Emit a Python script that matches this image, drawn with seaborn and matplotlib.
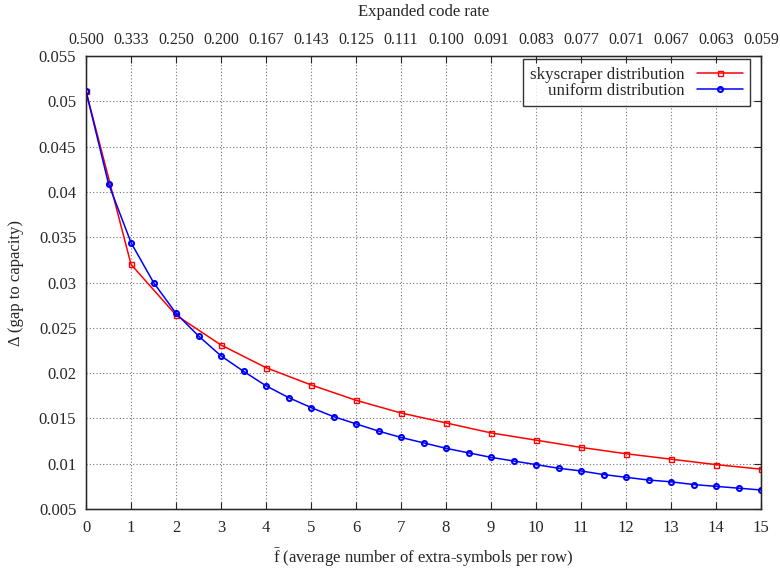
import matplotlib
matplotlib.use("Agg")
import matplotlib.pyplot as plt
import numpy as np
import pandas as pd
import seaborn as sns
from matplotlib.ticker import FuncFormatter

# skyscraper distribution: one point per integer f
sky_f = [0, 1, 2, 3, 4, 5, 6, 7, 8, 9, 10, 11, 12, 13, 14, 15]
sky_gap = [0.0511, 0.0320, 0.0264, 0.0231, 0.0206, 0.0187, 0.0170, 0.0156, 0.0145,
           0.0134, 0.0126, 0.0118, 0.0111, 0.0105, 0.0099, 0.0094]

# uniform distribution: one point per half step
uni_f = [0, 0.5, 1, 1.5, 2, 2.5, 3, 3.5, 4, 4.5, 5, 5.5, 6, 6.5, 7, 7.5, 8, 8.5,
         9, 9.5, 10, 10.5, 11, 11.5, 12, 12.5, 13, 13.5, 14, 14.5, 15]
uni_gap = [0.0511, 0.0409, 0.0344, 0.0300, 0.0266, 0.0241, 0.0219, 0.0202, 0.0186,
           0.0173, 0.0162, 0.0152, 0.0144, 0.0136, 0.0129, 0.0123, 0.0117, 0.0112,
           0.0107, 0.0103, 0.0099, 0.0095, 0.0092, 0.0088, 0.0085, 0.0082, 0.0080,
           0.0077, 0.0075, 0.0073, 0.0071]

top_ticks = list(range(16))
top_labels = ["0.500", "0.333", "0.250", "0.200", "0.167", "0.143", "0.125", "0.111",
              "0.100", "0.091", "0.083", "0.077", "0.071", "0.067", "0.063", "0.059"]

sns.set_style("white")
plt.rcParams["font.family"] = ["Liberation Serif", "DejaVu Serif"]
plt.rcParams["mathtext.fontset"] = "custom"
plt.rcParams["mathtext.rm"] = "Liberation Serif"
plt.rcParams["mathtext.it"] = "Liberation Serif"
plt.rcParams["font.size"] = 12

sky_df = pd.DataFrame({"f": sky_f, "gap": sky_gap})
uni_df = pd.DataFrame({"f": uni_f, "gap": uni_gap})

fig = plt.figure(figsize=(7.8, 5.7), dpi=100)
ax = fig.add_axes([0.1103, 0.1070, 0.8654, 0.7947])

sns.lineplot(data=sky_df, x="f", y="gap", ax=ax, color="#ff0000", lw=1.1,
             marker="s", markersize=3.6, markerfacecolor="none",
             markeredgecolor="#ff0000", markeredgewidth=1.0,
             label="skyscraper distribution")
sns.lineplot(data=uni_df, x="f", y="gap", ax=ax, color="#0000ff", lw=1.1,
             marker="o", markersize=3.6, markerfacecolor="none",
             markeredgecolor="#0000ff", markeredgewidth=1.5,
             label="uniform distribution")

ax.set_xlim(0, 15)
ax.set_ylim(0.005, 0.055)
ax.set_xticks(range(16))
ax.set_yticks(np.arange(0.005, 0.0551, 0.005))
ax.yaxis.set_major_formatter(FuncFormatter(lambda v, p: "%g" % round(v, 4)))
ax.grid(True, color="0.45", linestyle=(0, (1, 2)), linewidth=0.8)
ax.tick_params(direction="in", length=5, right=True, top=False, width=0.8)
ax.tick_params(axis="x", pad=8)
ax.tick_params(axis="y", pad=7)
for s in ax.spines.values():
    s.set_linewidth(1.0)
    s.set_color("black")

ax.set_xlabel(r"$\bar{\mathrm{f}}$ (average number of extra-symbols per row)", labelpad=7)
ax.set_ylabel("Δ (gap to capacity)", labelpad=11)

top = ax.twiny()
top.set_xlim(ax.get_xlim())
top.set_xticks(top_ticks)
top.set_xticklabels(top_labels, fontsize=11.5)
top.tick_params(direction="in", length=5, width=0.8, pad=6)
top.set_xlabel("Expanded code rate", labelpad=11)

leg = ax.legend(loc="upper right", bbox_to_anchor=(0.984, 0.993), borderaxespad=0,
                markerfirst=False, frameon=True, fancybox=False, edgecolor="black",
                handlelength=2.7, handletextpad=0.7, borderpad=0.45,
                labelspacing=0.0, fontsize=12.2)
leg.get_frame().set_linewidth(1.0)
try:
    col = leg._legend_box._children[-1]._children[0]
    col.align = "right"
except Exception:
    pass

fig.savefig("out.png", dpi=100)
